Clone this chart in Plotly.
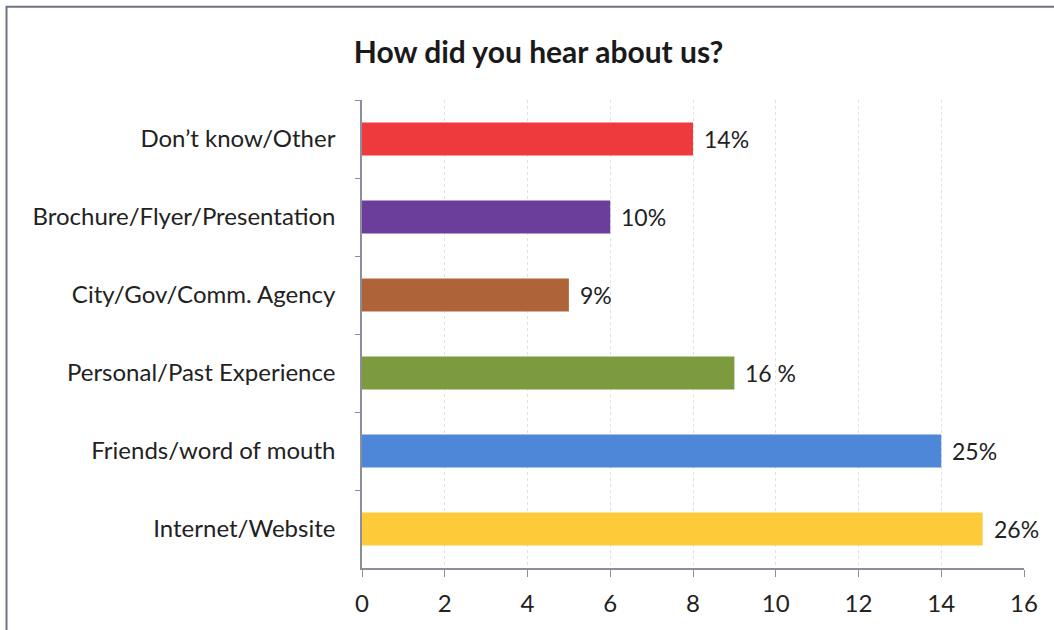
import plotly.graph_objects as go

categories = ["Don\u2019t know/Other", "Brochure/Flyer/Presentation", "City/Gov/Comm. Agency",
              "Personal/Past Experience", "Friends/word of mouth", "Internet/Website"]
counts = [8, 6, 5, 9, 14, 15]
pct_labels = ["14%", "10%", "9%", "16 %", "25%", "26%"]
colors = ["#EE3A3C", "#6B3E9B", "#AE6438", "#7C9A3E", "#4E86D8", "#FDCB3A"]
x_ticks = [0, 2, 4, 6, 8, 10, 12, 14, 16]

FONT = "Lato"

fig = go.Figure()
fig.add_trace(go.Bar(
    y=categories, x=counts, orientation="h",
    marker=dict(color=colors, line=dict(width=0)),
    width=0.42, hoverinfo="skip", cliponaxis=False,
))

for c, v, t in zip(categories, counts, pct_labels):
    fig.add_annotation(x=v, y=c, text=t, showarrow=False, xanchor="left",
                       xshift=9, font=dict(family=FONT, size=23, color="#222222"))

fig.add_shape(type="rect", xref="paper", yref="paper", x0=-0.537, x1=1.2, y0=-0.3, y1=1.199,
              line=dict(color="#6E7386", width=2), fillcolor="rgba(0,0,0,0)", layer="below")

fig.update_layout(
    width=1054, height=630,
    margin=dict(l=362, r=30, t=100, b=62),
    paper_bgcolor="white", plot_bgcolor="white",
    showlegend=False,
    title=dict(text="<b>How did you hear about us?</b>", x=0.511, xanchor="center", xref="container",
               y=1 - 52/630, yref="container", yanchor="middle",
               font=dict(family=FONT, size=30, color="#1a1a1a")),
    font=dict(family=FONT, color="#222222"),
)

fig.update_xaxes(range=[0, 16], tickvals=x_ticks, ticktext=[str(v) for v in x_ticks],
                 showgrid=True, gridcolor="#E2E2E2", griddash="dot", gridwidth=1,
                 showline=True, linecolor="#8A8F9A", linewidth=1.5,
                 ticks="outside", ticklen=7, tickcolor="#8A8F9A",
                 tickfont=dict(family=FONT, size=24, color="#222222"), zeroline=False,
                 ticklabelstandoff=6, fixedrange=True)
fig.update_yaxes(autorange="reversed", showline=True, linecolor="#8A8F9A", linewidth=1.5,
                 ticks="outside", ticklen=5, tickcolor="#8A8F9A", tickson="boundaries",
                 tickfont=dict(family=FONT, size=24, color="#222222"), ticklabelstandoff=20,
                 showgrid=False, fixedrange=True)

fig.write_html("out.html", config={"displayModeBar": False},
               post_script="document.body.style.margin='0';document.body.style.overflow='hidden';")
